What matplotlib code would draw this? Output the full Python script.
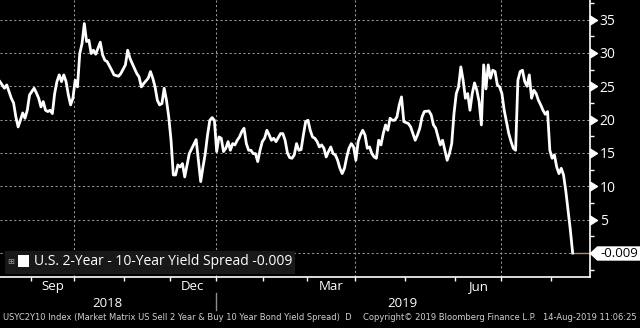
import numpy as np
import pandas as pd
import matplotlib
matplotlib.use("Agg")
import matplotlib.pyplot as plt
from matplotlib.patches import Rectangle
from matplotlib.path import Path
from matplotlib.ticker import MultipleLocator
from pandas.tseries.holiday import USFederalHolidayCalendar
from pandas.tseries.offsets import CustomBusinessDay

# trading sessions counted from 14-Aug-2018, spread in bp
START = "2018-08-14"
AXIS_END = "2019-09-20"

session = [0, 1, 2, 3, 4, 5, 6, 7, 8, 9, 10, 11, 12, 13, 15, 16, 17, 18, 19, 20,
           21, 22, 23, 24, 25, 26, 27, 28, 29, 30, 31, 32, 33, 34, 35, 36, 37, 38, 39, 40,
           41, 42, 44, 45, 46, 47, 49, 50, 52, 53, 55, 56, 57, 58, 60, 61, 62, 63, 65, 66,
           67, 68, 69, 70, 71, 72, 73, 74, 75, 76, 77, 78, 79, 80, 81, 83, 84, 86, 87, 88,
           89, 90, 91, 92, 93, 94, 95, 96, 97, 98, 99, 100, 101, 102, 103, 104, 105, 106, 107, 108,
           109, 110, 111, 112, 113, 114, 115, 116, 117, 118, 119, 120, 121, 123, 124, 125, 126, 127, 128, 129,
           130, 131, 132, 133, 134, 135, 136, 137, 138, 139, 140, 141, 142, 143, 144, 145, 146, 147, 148, 149,
           150, 151, 152, 153, 154, 155, 156, 157, 158, 159, 160, 161, 162, 163, 164, 165, 166, 167, 168, 169,
           170, 171, 172, 173, 174, 175, 176, 177, 179, 180, 181, 182, 183, 184, 185, 186, 188, 189, 190, 191,
           192, 193, 194, 195, 196, 197, 198, 199, 200, 201, 202, 203, 204, 205, 206, 207, 208, 209, 210, 211,
           212, 213, 214, 215, 216, 217, 218, 219, 220, 221, 223, 224, 225, 226, 227, 228, 229, 230, 231, 232,
           233, 234, 235, 236, 237, 238, 239, 240, 241, 242, 243, 244, 245, 246, 247, 248, 249, 250, 251]

spread = [25.7, 25.2, 24.7, 25.2, 24.2, 23.2, 22.5, 20.4, 18.9, 19.9, 21.0, 20.2, 21.4, 23.7, 24.7, 24.0, 23.2, 21.9, 22.7, 21.4,
          21.2, 21.4, 20.9, 23.9, 25.7, 26.7, 25.7, 26.7, 25.7, 23.7, 22.2, 23.2, 25.9, 24.9, 29.9, 31.4, 34.4, 31.7, 31.9, 29.9,
          30.4, 29.8, 31.6, 29.7, 28.9, 28.7, 27.4, 26.7, 26.5, 26.9, 28.2, 30.4, 29.2, 28.4, 26.9, 26.4, 24.9, 25.4, 26.2, 27.2,
          26.2, 24.9, 22.9, 22.2, 22.4, 24.7, 22.9, 20.4, 16.9, 11.7, 11.7, 13.2, 12.9, 13.4, 11.4, 14.9, 15.6, 17.0, 13.9, 10.7,
          12.9, 14.9, 17.7, 19.9, 20.3, 19.9, 15.2, 17.4, 17.2, 15.2, 15.7, 16.7, 15.4, 16.4, 16.2, 16.9, 17.4, 18.2, 18.7, 16.4,
          15.4, 15.4, 14.9, 14.9, 13.7, 15.4, 16.7, 17.2, 18.4, 17.7, 16.9, 17.2, 16.7, 17.9, 17.9, 16.9, 15.0, 14.3, 14.2, 14.7,
          16.4, 15.4, 15.5, 17.7, 19.7, 19.9, 18.4, 17.4, 17.2, 16.7, 15.9, 16.2, 15.7, 14.4, 15.2, 15.9, 14.9, 14.7, 13.9, 12.7,
          11.9, 12.7, 14.4, 15.7, 16.4, 15.9, 13.9, 16.7, 17.7, 18.4, 17.7, 15.7, 15.9, 14.9, 14.4, 14.2, 16.9, 16.2, 17.9, 19.2,
          18.4, 20.2, 19.9, 19.9, 20.4, 22.2, 23.4, 19.7, 19.4, 18.9, 17.9, 16.9, 17.7, 18.7, 20.4, 21.2, 21.3, 20.7, 19.2, 18.7,
          17.4, 16.2, 16.9, 15.4, 13.9, 14.9, 16.4, 20.9, 23.9, 24.9, 27.9, 25.9, 23.2, 23.9, 21.4, 23.9, 25.5, 24.4, 22.7, 19.2,
          28.2, 24.6, 28.2, 26.2, 27.4, 27.2, 25.2, 24.9, 23.9, 21.4, 17.9, 16.7, 15.7, 15.4, 25.9, 27.2, 27.4, 25.7, 25.0, 26.7,
          23.2, 24.4, 23.9, 22.9, 22.2, 21.4, 20.8, 21.2, 15.4, 14.2, 14.7, 12.9, 11.9, 12.7, 11.7, 9.3, 6.4, 3.4, -0.009]

last_value = -0.009
series_name = "U.S. 2-Year - 10-Year Yield Spread"
y_ticks = [5, 10, 15, 20, 25, 30, 35]
quarter_labels = {9: "Sep", 12: "Dec", 3: "Mar", 6: "Jun"}
footer_left = "USYC2Y10 Index (Market Matrix US Sell 2 Year & Buy 10 Year Bond Yield Spread)  D"
footer_mid = "Copyright\u00a9 2019 Bloomberg Finance L.P."
footer_right = "14-Aug-2019 11:06:25"

W, H = 640, 328
def fx(px):
    return px / W
def fy(py):
    return 1 - py / H

plt.rcParams["font.family"] = ["Open Sans", "DejaVu Sans"]
fig = plt.figure(figsize=(W / 100, H / 100), dpi=100, facecolor="black")
ax = fig.add_axes([0, fy(277), fx(590), 277 / H])
ax.set_facecolor("black")

days = pd.date_range(START, AXIS_END, freq=CustomBusinessDay(calendar=USFederalHolidayCalendar()))
xmin, xmax = 0.05, 258.6
ax.set_xlim(xmin, xmax)
ax.set_ylim(-3.6, 37.93)

grid_kw = dict(color="#9a9a9a", lw=0.75, dashes=(2.0, 2.4), zorder=1)
for v in [0] + y_ticks:
    ax.axhline(v, **grid_kw)

# month boundaries sit halfway between last and first session
month = days.month.values
starts = np.flatnonzero(np.diff(month) != 0) + 1
bounds = [s - 0.5 for s in starts if s - 0.5 < xmax]
for i, s in enumerate(starts):
    b = s - 0.5
    if b >= xmax:
        break
    m = month[s]
    if m in (10, 1, 4, 7):
        ax.axvline(b, **grid_kw)
    if m in quarter_labels and i + 1 < len(starts):
        mid = (b + starts[i + 1] - 0.5) / 2
        ax.text(mid, -0.036, quarter_labels[m], transform=ax.get_xaxis_transform(),
                ha="center", va="center", color="white", fontsize=9.5)

ax.plot(session, spread, color="white", lw=2.0, solid_joinstyle="round", zorder=3)
ax.plot([session[-1], xmax], [last_value, last_value], color="#b38a5c", lw=1.0, zorder=2)

# years split at the first January session
jan = [s - 0.5 for s in starts if month[s] == 1][0]
ax.plot([jan, jan], [-0.058, -0.12], transform=ax.get_xaxis_transform(),
        color="#8c8c8c", lw=1.0, clip_on=False)
ax.text((xmin + jan) / 2, -0.094, str(days[0].year), transform=ax.get_xaxis_transform(),
        ha="center", va="center", color="white", fontsize=9.5)
ax.text((jan + xmax) / 2, -0.094, str(days[int(jan) + 1].year), transform=ax.get_xaxis_transform(),
        ha="center", va="center", color="white", fontsize=9.5)

for side in ["top", "left"]:
    ax.spines[side].set_visible(False)
for side in ["right", "bottom"]:
    ax.spines[side].set_color("white")
    ax.spines[side].set_linewidth(1.2)

ax.set_xticks(bounds)
ax.set_xticklabels([])
ax.tick_params(axis="x", which="major", direction="out", length=3, width=1, color="white")

ax.yaxis.tick_right()
ax.set_yticks(y_ticks)
ax.set_yticklabels([str(v) for v in y_ticks])
ax.yaxis.set_minor_locator(MultipleLocator(2.5))
ax.tick_params(axis="y", which="major", length=0, pad=7, labelcolor="white", labelsize=10)
ax.tick_params(axis="y", which="minor", length=3, width=1, color="white")

tri = Path([(0, -1), (1.6, 0), (0, 1), (0, -1)],
           [Path.MOVETO, Path.LINETO, Path.LINETO, Path.CLOSEPOLY])
ax.plot(np.ones(len(y_ticks)), y_ticks, ls="none", marker=tri, ms=10, color="white",
        transform=ax.get_yaxis_transform(), clip_on=False)

# last value tag on the axis
tag = Path([(0, 0), (7, -6.5), (50, -6.5), (50, 6.5), (7, 6.5), (0, 0)],
           [Path.MOVETO] + [Path.LINETO] * 4 + [Path.CLOSEPOLY])
ax.plot([1.0], [last_value], marker=tag, ms=72, color="white", mec="white",
        transform=ax.get_yaxis_transform(), clip_on=False, zorder=5)
ax.annotate(f"{last_value:.3f}", xy=(1.0, last_value), xycoords=ax.get_yaxis_transform(),
            xytext=(21, 0), textcoords="offset points", ha="center", va="center",
            color="black", fontsize=9.5, zorder=6, annotation_clip=False)

# legend strip
fig.add_artist(Rectangle((fx(5), fy(274)), fx(290), 23 / H, transform=fig.transFigure,
                         facecolor="#181818", edgecolor="none", zorder=4))
fig.add_artist(Rectangle((fx(18), fy(267)), fx(11), 12 / H, transform=fig.transFigure,
                         facecolor="white", edgecolor="none", zorder=5))
fig.text(fx(11), fy(261.5), "\u229e", ha="center", va="center", color="#9a9a9a",
         fontsize=6, family="DejaVu Sans", zorder=5)
fig.text(fx(34), fy(261.5), f"{series_name} {last_value:.3f}", ha="left", va="center",
         color="white", fontsize=10, zorder=5)

foot = dict(va="center", color="#d0d0d0", fontsize=6.0, family="DejaVu Sans")
fig.text(fx(3), fy(318), footer_left, ha="left", **foot)
fig.text(fx(363), fy(318), footer_mid, ha="left", **foot)
fig.text(fx(637), fy(318), footer_right, ha="right", **foot)

fig.savefig("out.png", dpi=100, facecolor="black")
